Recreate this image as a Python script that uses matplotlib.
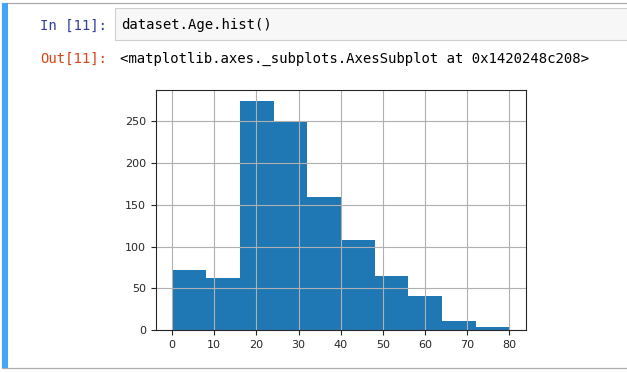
import matplotlib
matplotlib.use('Agg')
import matplotlib.pyplot as plt
from matplotlib.patches import Rectangle

# age histogram counts (10 bins, 0.17 .. 80)
bin_edges = [0.17, 8.153, 16.136, 24.119, 32.102, 40.085, 48.068, 56.051, 64.034, 72.017, 80.0]
counts = [72, 62, 274, 250, 160, 108, 65, 41, 11, 3]

in_prompt = 'In [11]:'
out_prompt = 'Out[11]:'
code_line = 'dataset.Age.hist()'
out_line = '<matplotlib.axes._subplots.AxesSubplot at 0x1420248c208>'

W, H = 627, 372
fig = plt.figure(figsize=(W / 100, H / 100), dpi=100)
fig.patch.set_facecolor('white')

def fx(x):
    return x / W

def fy(y):
    return 1 - y / H

# notebook cell frame
fig.patches.append(Rectangle((fx(2), fy(368)), fx(700) - fx(2), fy(3) - fy(368),
                             transform=fig.transFigure, facecolor='none',
                             edgecolor='#ababab', linewidth=0.9, zorder=0))
fig.patches.append(Rectangle((fx(2), fy(368)), fx(8) - fx(2), fy(3) - fy(368),
                             transform=fig.transFigure, facecolor='#42a5f5',
                             edgecolor='none', zorder=1))
# input box
fig.patches.append(Rectangle((fx(114.5), fy(40)), fx(700) - fx(114.5), fy(8.5) - fy(40),
                             transform=fig.transFigure, facecolor='#f7f7f7',
                             edgecolor='#cfcfcf', linewidth=0.8, zorder=1))

mono = 'DejaVu Sans Mono'
fig.text(fx(107.5), fy(29.5), in_prompt, ha='right', va='baseline',
         family=mono, fontsize=10, color='#303f9f')
fig.text(fx(121), fy(29.5), code_line, ha='left', va='baseline',
         family=mono, fontsize=10, color='#000000')
fig.text(fx(107.5), fy(62.5), out_prompt, ha='right', va='baseline',
         family=mono, fontsize=10, color='#d84315')
fig.text(fx(120), fy(62.5), out_line, ha='left', va='baseline',
         family=mono, fontsize=10.1, color='#000000')

# the histogram itself
ax = fig.add_axes([fx(156), fy(330), fx(526) - fx(156), fy(90) - fy(330)])
lefts = bin_edges[:-1]
widths = [b - a for a, b in zip(bin_edges[:-1], bin_edges[1:])]
ax.bar(lefts, counts, width=widths, align='edge', color='#1f77b4', linewidth=0)
ax.grid(True, color='#b0b0b0', linewidth=0.8)
ax.set_xticks(range(0, 81, 10))
ax.set_yticks(range(0, 251, 50))
ax.tick_params(labelsize=8, colors='#262626', length=3.5, width=0.8)
for s in ax.spines.values():
    s.set_color('#262626')
    s.set_linewidth(0.8)

plt.savefig('out.png', dpi=100)
